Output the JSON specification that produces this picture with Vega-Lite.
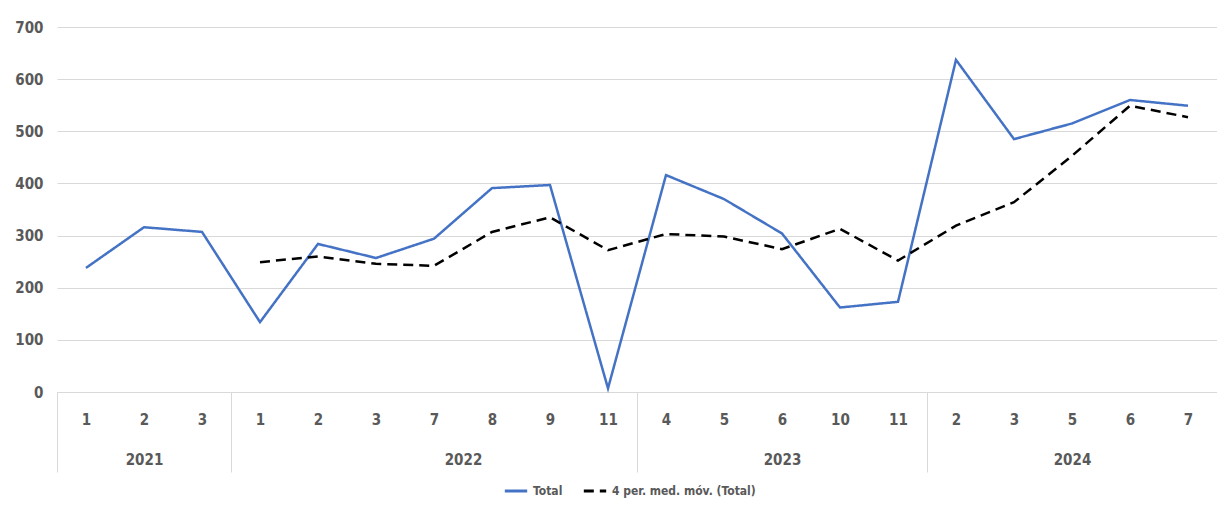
{
  "$schema": "https://vega.github.io/schema/vega-lite/v6.json",
  "width": 1160,
  "height": 365,
  "autosize": {"type": "none"},
  "padding": {"left": 57, "top": 27, "right": 0, "bottom": 114},
  "background": "white",
  "config": {
    "view": {"stroke": null},
    "font": "DejaVu Sans Condensed, Roboto, sans-serif",
    "axis": {"labelFont": "DejaVu Sans Condensed, Roboto, sans-serif", "labelFontWeight": "bold", "labelColor": "#595959", "labelFontSize": 15}
  },
  "data": {
    "values": [
      {"idx": 0, "year": "2021", "month": "1", "serie": "Total", "value": 238},
      {"idx": 1, "year": "2021", "month": "2", "serie": "Total", "value": 316},
      {"idx": 2, "year": "2021", "month": "3", "serie": "Total", "value": 307},
      {"idx": 3, "year": "2022", "month": "1", "serie": "Total", "value": 134},
      {"idx": 4, "year": "2022", "month": "2", "serie": "Total", "value": 284},
      {"idx": 5, "year": "2022", "month": "3", "serie": "Total", "value": 257},
      {"idx": 6, "year": "2022", "month": "7", "serie": "Total", "value": 294},
      {"idx": 7, "year": "2022", "month": "8", "serie": "Total", "value": 391},
      {"idx": 8, "year": "2022", "month": "9", "serie": "Total", "value": 397},
      {"idx": 9, "year": "2022", "month": "11", "serie": "Total", "value": 7},
      {"idx": 10, "year": "2023", "month": "4", "serie": "Total", "value": 416},
      {"idx": 11, "year": "2023", "month": "5", "serie": "Total", "value": 370},
      {"idx": 12, "year": "2023", "month": "6", "serie": "Total", "value": 304},
      {"idx": 13, "year": "2023", "month": "10", "serie": "Total", "value": 162},
      {"idx": 14, "year": "2023", "month": "11", "serie": "Total", "value": 173},
      {"idx": 15, "year": "2024", "month": "2", "serie": "Total", "value": 637},
      {"idx": 16, "year": "2024", "month": "3", "serie": "Total", "value": 485},
      {"idx": 17, "year": "2024", "month": "5", "serie": "Total", "value": 515},
      {"idx": 18, "year": "2024", "month": "6", "serie": "Total", "value": 560},
      {"idx": 19, "year": "2024", "month": "7", "serie": "Total", "value": 549},
      {"idx": 3, "year": "2022", "month": "1", "serie": "4 per. med. móv. (Total)", "value": 249},
      {"idx": 4, "year": "2022", "month": "2", "serie": "4 per. med. móv. (Total)", "value": 260},
      {"idx": 5, "year": "2022", "month": "3", "serie": "4 per. med. móv. (Total)", "value": 246},
      {"idx": 6, "year": "2022", "month": "7", "serie": "4 per. med. móv. (Total)", "value": 242},
      {"idx": 7, "year": "2022", "month": "8", "serie": "4 per. med. móv. (Total)", "value": 307},
      {"idx": 8, "year": "2022", "month": "9", "serie": "4 per. med. móv. (Total)", "value": 335},
      {"idx": 9, "year": "2022", "month": "11", "serie": "4 per. med. móv. (Total)", "value": 272},
      {"idx": 10, "year": "2023", "month": "4", "serie": "4 per. med. móv. (Total)", "value": 303},
      {"idx": 11, "year": "2023", "month": "5", "serie": "4 per. med. móv. (Total)", "value": 298},
      {"idx": 12, "year": "2023", "month": "6", "serie": "4 per. med. móv. (Total)", "value": 274},
      {"idx": 13, "year": "2023", "month": "10", "serie": "4 per. med. móv. (Total)", "value": 313},
      {"idx": 14, "year": "2023", "month": "11", "serie": "4 per. med. móv. (Total)", "value": 252},
      {"idx": 15, "year": "2024", "month": "2", "serie": "4 per. med. móv. (Total)", "value": 319},
      {"idx": 16, "year": "2024", "month": "3", "serie": "4 per. med. móv. (Total)", "value": 364},
      {"idx": 17, "year": "2024", "month": "5", "serie": "4 per. med. móv. (Total)", "value": 453},
      {"idx": 18, "year": "2024", "month": "6", "serie": "4 per. med. móv. (Total)", "value": 549},
      {"idx": 19, "year": "2024", "month": "7", "serie": "4 per. med. móv. (Total)", "value": 527}
    ]
  },
  "encoding": {
    "y": {
      "field": "value",
      "type": "quantitative",
      "scale": {"domain": [0, 700], "nice": false},
      "axis": {
        "title": null,
        "values": [0, 100, 200, 300, 400, 500, 600, 700],
        "domain": false,
        "ticks": false,
        "labelPadding": 14,
        "gridColor": "#d9d9d9",
        "gridWidth": 1
      }
    }
  },
  "layer": [
    {
      "mark": {"type": "line", "strokeWidth": 2.5},
      "encoding": {
        "x": {
          "field": "idx",
          "type": "quantitative",
          "scale": {"domain": [-0.5, 19.5], "nice": false, "zero": false},
          "axis": {
            "title": null,
            "orient": "bottom",
            "values": [0, 1, 2, 3, 4, 5, 6, 7, 8, 9, 10, 11, 12, 13, 14, 15, 16, 17, 18, 19],
            "labelExpr": "['1','2','3','1','2','3','7','8','9','11','4','5','6','10','11','2','3','5','6','7'][datum.value]",
            "grid": false,
            "ticks": false,
            "domain": true,
            "domainColor": "#d9d9d9",
            "domainWidth": 1,
            "labelPadding": 20,
            "labelFlush": false,
            "labelOverlap": false
          }
        },
        "color": {
          "field": "serie",
          "type": "nominal",
          "scale": {"domain": ["Total", "4 per. med. móv. (Total)"], "range": ["#4472C4", "#000000"]},
          "legend": {
            "title": null,
            "orient": "none",
            "legendX": 446,
            "legendY": 451,
            "direction": "horizontal",
            "symbolType": "stroke",
            "symbolStrokeWidth": 3,
            "symbolSize": 500,
            "labelFontSize": 12,
            "labelFont": "DejaVu Sans Condensed, Roboto, sans-serif",
            "labelColor": "#595959",
            "labelFontWeight": "bold",
            "columnPadding": 14
          }
        },
        "strokeDash": {
          "field": "serie",
          "type": "nominal",
          "scale": {"domain": ["Total", "4 per. med. móv. (Total)"], "range": [[1, 0], [10, 6]]},
          "legend": {
            "title": null,
            "orient": "none",
            "legendX": 446,
            "legendY": 451,
            "direction": "horizontal",
            "symbolType": "stroke",
            "symbolStrokeWidth": 3,
            "symbolSize": 500,
            "labelFontSize": 12,
            "labelFont": "DejaVu Sans Condensed, Roboto, sans-serif",
            "labelColor": "#595959",
            "labelFontWeight": "bold",
            "columnPadding": 14
          }
        }
      }
    },
    {
      "mark": {"type": "point", "opacity": 0},
      "encoding": {
        "x": {
          "field": "idx",
          "type": "quantitative",
          "scale": {"domain": [-0.5, 19.5], "nice": false, "zero": false},
          "axis": {
            "title": null,
            "orient": "bottom",
            "values": [-0.5, 1, 2.5, 6.5, 9.5, 12, 14.5, 17, 19.5],
            "labelExpr": "datum.value == 1 ? '2021' : datum.value == 6.5 ? '2022' : datum.value == 12 ? '2023' : datum.value == 17 ? '2024' : ''",
            "grid": false,
            "domain": false,
            "ticks": true,
            "tickSize": 80,
            "tickColor": "#d9d9d9",
            "tickWidth": 1,
            "tickOpacity": {"condition": {"test": "indexof([-0.5, 2.5, 9.5, 14.5, 19.5], datum.value) >= 0", "value": 1}, "value": 0},
            "labelPadding": -20,
            "labelFlush": false,
            "labelOverlap": false
          }
        }
      }
    }
  ],
  "resolve": {"axis": {"x": "independent"}}
}
